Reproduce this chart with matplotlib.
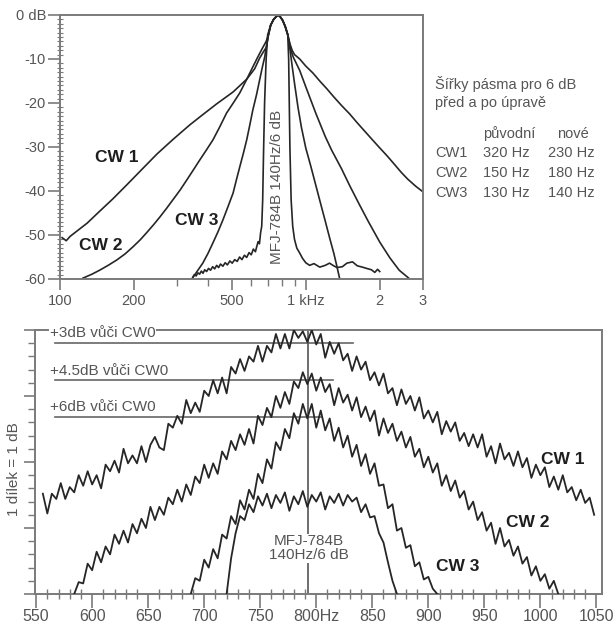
import numpy as np
import matplotlib
matplotlib.use('Agg')
import matplotlib.pyplot as plt

plt.rcParams['font.family'] = ['Liberation Sans', 'DejaVu Sans']

# ---------------- top panel data (frequency in Hz, level in dB) ----------------
cw1_top_f = [102, 106, 110, 129, 145, 164, 187, 211, 248, 288, 337, 382, 434, 506, 575, 620, 649,
             672, 692, 705, 720, 740, 760, 770, 785, 805, 825, 845, 862, 880, 900, 945, 1000, 1070,
             1140, 1220, 1300, 1400, 1510, 1620, 1750, 1870, 2000, 2150, 2300, 2450, 2600, 2800, 3000]
cw1_top_db = [-50.6, -51.3, -50.3, -47.3, -44.6, -41.8, -38.6, -35.6, -31.6, -28.3, -25.0, -22.6, -20.2,
              -17.5, -14.6, -12.2, -9.8, -8.4, -7.3, -4.5, -2.3, -1.0, -0.3, 0.0, -0.3, -1.2, -2.6, -4.5,
              -6.5, -8.0, -9.0, -10.0, -11.6, -13.2, -15.0, -16.8, -18.6, -20.6, -22.5, -24.5, -26.6,
              -28.4, -30.2, -32.1, -34.0, -35.8, -37.3, -38.9, -40.2]

cw2_top_f = [124, 135, 145, 157, 170, 184, 198, 212, 225, 240, 255, 271, 288, 308, 328, 348, 370, 394,
             419, 447, 476, 507, 539, 573, 609, 640, 670, 690, 705, 720, 740, 760, 770, 785, 805, 825,
             845, 858, 870, 890, 945, 1000, 1100, 1200, 1274, 1400, 1510, 1650, 1800, 2000, 2200,
             2400, 2650]
cw2_top_db = [-59.8, -58.9, -58.0, -56.9, -55.7, -54.3, -52.7, -51.1, -49.5, -47.7, -45.9, -44.0, -42.0,
              -39.8, -37.5, -35.3, -33.0, -30.7, -28.4, -25.4, -22.3, -20.0, -17.7, -14.8, -11.8, -9.4,
              -7.3, -6.0, -4.5, -2.3, -1.0, -0.3, 0.0, -0.3, -1.2, -2.6, -4.5, -6.3, -8.0, -9.6, -12.6,
              -16.3, -22.4, -27.6, -30.7, -35.0, -38.8, -43.0, -47.0, -51.6, -55.2, -58.0, -60.0]

cw3_top_f = [344, 362, 381, 400, 419, 440, 460, 483, 506, 522, 539, 557, 575, 592, 609, 630, 649, 665,
             681, 692, 705, 720, 740, 760, 770, 785, 805, 825, 845, 856, 866, 880, 900, 930, 960, 1000,
             1050, 1100, 1150, 1200, 1250, 1300, 1340, 1375]
cw3_top_db = [-60.0, -58.2, -56.4, -54.2, -51.8, -49.2, -46.6, -43.5, -40.5, -37.5, -34.5, -31.5, -28.4,
              -25.0, -21.6, -18.2, -14.8, -12.0, -9.5, -7.0, -4.5, -2.3, -1.0, -0.3, 0.0, -0.3, -1.2,
              -2.6, -4.5, -6.5, -8.5, -11.5, -15.5, -21.0, -25.5, -30.2, -34.5, -38.8, -42.9, -46.8,
              -50.6, -54.1, -57.2, -60.0]

mfj_top_f = [347, 352, 358, 364, 370, 376, 382, 388, 395, 402, 410, 418, 426, 434, 442, 450, 460, 470,
             480, 491, 502, 514, 526, 538, 550, 563, 575, 588, 600, 612, 624, 632, 640, 648, 655, 662,
             668, 673, 680, 690, 700, 720, 740, 760, 770, 785, 805, 825, 845, 852, 857, 862, 872, 885,
             900, 920, 945, 970, 1000, 1037, 1080, 1140, 1200, 1250, 1290, 1340, 1410, 1470, 1550,
             1620, 1700, 1770, 1850, 1910, 1960, 2000]
mfj_top_db = [-59.6, -59.0, -59.3, -58.6, -58.9, -58.2, -58.7, -57.9, -58.3, -57.6, -58.0, -57.2, -57.7,
              -56.9, -57.4, -56.6, -57.1, -56.3, -56.8, -55.9, -56.4, -55.6, -56.0, -55.0, -55.6, -54.6,
              -55.1, -54.0, -54.5, -53.2, -53.8, -52.6, -51.5, -52.0, -49.5, -48.0, -42.0, -32.0, -20.0,
              -10.0, -4.5, -2.3, -1.0, -0.3, 0.0, -0.3, -1.2, -2.6, -4.5, -10.0, -20.0, -30.0, -42.0,
              -48.0, -51.0, -53.0, -54.1, -55.3, -56.3, -56.9, -56.5, -57.3, -56.9, -56.4, -56.9, -57.4,
              -57.2, -56.4, -56.1, -57.0, -57.3, -57.6, -57.9, -58.5, -57.8, -58.3]

top_xticks = [100, 200, 500, 1000, 2000, 3000]
top_xticklabels = ['100', '200', '500', '1 kHz', '2', '3']
top_xminor = [300, 400, 600, 700, 800, 900]
top_yticks = [-60, -50, -40, -30, -20, -10, 0]
top_yticklabels = ['-60', '-50', '-40', '-30', '-20', '-10', '0 dB']

# ---------------- bottom panel data (Hz, 1 division = 1 dB) ----------------
step = 4
cw1_start = 556
cw1_bot = [7.6, 6.1, 7.6, 7.2, 8.4, 7.2, 8.1, 7.7, 9.0, 8.2, 9.3, 8.3, 9.0, 8.0, 9.8, 9.3, 10.1, 9.2,
           11.0, 9.9, 10.5, 9.9, 11.2, 10.0, 11.3, 11.9, 11.1, 10.9, 12.9, 12.6, 13.5, 12.9, 14.7, 13.7,
           14.5, 13.8, 15.4, 15.0, 16.2, 15.2, 16.4, 15.2, 17.2, 16.7, 17.8, 16.9, 18.0, 17.6, 18.8, 17.6,
           18.8, 18.3, 19.7, 18.6, 19.7, 18.6, 20.0, 19.4, 19.9, 19.1, 20.0, 18.9, 19.7, 17.9, 19.1, 18.2,
           19.0, 17.7, 18.2, 16.9, 18.0, 17.0, 17.6, 16.2, 16.8, 15.8, 16.7, 15.2, 15.6, 14.3, 15.5, 14.4,
           15.0, 13.9, 14.9, 13.3, 13.9, 13.0, 13.8, 12.1, 13.1, 12.3, 13.0, 11.6, 12.2, 11.2, 12.1, 11.1,
           12.1, 10.4, 11.2, 9.9, 11.4, 10.2, 10.7, 9.7, 10.8, 9.6, 10.3, 8.8, 9.8, 9.0, 9.6, 8.1, 8.9,
           7.9, 9.0, 7.7, 8.1, 7.1, 7.9, 6.9, 7.3, 6.0]

cw2_start = 584
cw2_bot = [0.0, 0.9, 0.8, 2.3, 1.8, 3.2, 2.4, 3.6, 3.0, 4.5, 3.8, 4.8, 3.9, 5.3, 4.6, 5.7, 5.0, 6.6, 5.6,
           6.6, 6.0, 7.3, 6.8, 7.9, 7.0, 8.3, 7.5, 8.9, 8.4, 9.8, 8.8, 9.9, 9.1, 10.8, 10.2, 11.6, 10.9,
           12.1, 11.3, 12.5, 11.4, 13.5, 12.8, 14.1, 13.4, 15.0, 14.1, 15.3, 14.4, 16.1, 15.6, 16.8, 15.9,
           16.7, 15.4, 16.4, 15.3, 15.9, 14.3, 15.6, 14.5, 15.1, 13.9, 14.9, 13.4, 14.2, 13.1, 13.9, 12.0,
           13.3, 12.2, 12.9, 11.6, 12.3, 11.1, 11.9, 10.4, 11.0, 9.6, 10.4, 9.2, 9.9, 8.2, 9.0, 7.8, 8.6,
           7.3, 7.8, 6.4, 7.0, 5.6, 6.2, 4.8, 5.4, 3.8, 5.0, 3.6, 4.1, 2.9, 3.6, 2.3, 2.8, 1.4, 2.1, 1.0,
           1.5, 0.4, 1.0, 0.0]

cw3_start = 688
cw3_bot = [0.0, 1.2, 1.0, 2.6, 2.0, 3.4, 2.7, 4.5, 4.2, 5.9, 5.3, 7.1, 6.4, 7.9, 7.2, 9.1, 8.4, 10.2,
           9.5, 11.5, 10.9, 12.5, 11.8, 13.7, 12.9, 14.4, 13.3, 14.4, 12.6, 13.9, 12.4, 13.3, 11.6, 12.6,
           11.1, 12.0, 10.4, 11.3, 9.7, 10.6, 9.1, 9.9, 8.2, 8.3, 6.5, 6.8, 4.8, 5.0, 3.5, 3.7, 2.1, 2.4,
           1.1, 1.3, 0.4, 0.0]

mfj_start = 720
mfj_bot = [0.0, 2.7, 4.6, 5.9, 5.6, 6.8, 6.2, 7.4, 6.7, 7.6, 6.5, 7.5, 6.9, 7.7, 6.3, 7.4, 6.8, 7.8, 6.6,
           7.5, 7.0, 7.7, 6.4, 7.4, 6.9, 7.6, 6.7, 7.5, 7.0, 7.3, 6.2, 6.8, 5.8, 5.9, 4.6, 3.9, 2.4, 1.0,
           0.0]

ref_levels = [19.0, 16.2, 13.4]
ref_starts = [567, 567, 567]
ref_ends = [833, 815, 805]
ref_labels = ['+3dB vůči CW0', '+4.5dB vůči CW0', '+6dB vůči CW0']
ref_label_y = [19.75, 16.9, 14.2]
mfj_center = 793

bot_xticks = list(range(550, 1051, 50))
bot_xticklabels = ['550', '600', '650', '700', '750', '800Hz', '850', '900', '950', '1000', '1050']

# ---------------- figure ----------------
W, H = 616, 629
fig = plt.figure(figsize=(W / 100, H / 100), dpi=100)
fig.patch.set_facecolor('white')

line_col = '#262626'
axis_col = '#7a7a7a'
txt_col = '#555555'
cw_col = '#1e1e1e'

# ---- top ----
ax1 = fig.add_axes([60 / W, 1 - 279 / H, 363 / W, 264 / H])
ax1.set_xscale('log')
for f, d in [(cw1_top_f, cw1_top_db), (cw2_top_f, cw2_top_db), (cw3_top_f, cw3_top_db),
             (mfj_top_f, mfj_top_db)]:
    ax1.plot(f, d, color=line_col, lw=1.2, solid_joinstyle='round')
ax1.set_xlim(100, 3000)
ax1.set_ylim(-60, 0)
ax1.set_xticks(top_xticks)
ax1.set_xticklabels(top_xticklabels)
ax1.set_xticks(top_xminor, minor=True)
ax1.set_xticklabels([], minor=True)
ax1.set_yticks(top_yticks)
ax1.set_yticklabels(top_yticklabels)
ax1.set_yticks(np.arange(-60, 1, 1), minor=True)
ax1.tick_params(axis='x', which='major', direction='out', length=8, width=1.2, color=axis_col,
                labelsize=10.5, labelcolor=txt_col, pad=3)
ax1.tick_params(axis='x', which='minor', direction='out', length=5, width=1.0, color=axis_col)
ax1.tick_params(axis='y', which='major', direction='out', length=9, width=1.2, color=axis_col,
                labelsize=10.5, labelcolor=txt_col, pad=1)
ax1.tick_params(axis='y', which='minor', direction='inout', length=4, width=0.8, color=axis_col)
for s in ax1.spines.values():
    s.set_color(axis_col)
    s.set_linewidth(1.4)

ax1.text(170, -32.3, 'CW 1', fontsize=12.5, fontweight='bold', color=cw_col, ha='center', va='center')
ax1.text(146, -52.5, 'CW 2', fontsize=12.5, fontweight='bold', color=cw_col, ha='center', va='center')
ax1.text(360, -46.6, 'CW 3', fontsize=12.5, fontweight='bold', color=cw_col, ha='center', va='center')
ax1.text(762, -39, 'MFJ-784B 140Hz/6 dB', rotation=90, fontsize=11, color=txt_col,
         ha='center', va='center')

# right-hand notes
fig.text(435 / W, 1 - 84 / H, 'Šířky pásma pro 6 dB', fontsize=10.5, color=txt_col, va='center')
fig.text(435 / W, 1 - 103 / H, 'před a po úpravě', fontsize=10.5, color=txt_col, va='center')
fig.text(483 / W, 1 - 134 / H, 'původní', fontsize=10.5, color=txt_col, va='center')
fig.text(557 / W, 1 - 134 / H, 'nové', fontsize=10.5, color=txt_col, va='center')
rows = [('CW1', '320 Hz', '230 Hz'), ('CW2', '150 Hz', '180 Hz'), ('CW3', '130 Hz', '140 Hz')]
for (name, a, b), yy in zip(rows, [153, 173, 193]):
    fig.text(435 / W, 1 - yy / H, name, fontsize=10.5, color=txt_col, va='center')
    fig.text(483 / W, 1 - yy / H, a, fontsize=10.5, color=txt_col, va='center')
    fig.text(548 / W, 1 - yy / H, b, fontsize=10.5, color=txt_col, va='center')

# ---- bottom ----
ax2 = fig.add_axes([35 / W, 1 - 594 / H, 567 / W, 264 / H])
for start, vals in [(cw1_start, cw1_bot), (cw2_start, cw2_bot), (cw3_start, cw3_bot),
                    (mfj_start, mfj_bot)]:
    f = start + step * np.arange(len(vals))
    ax2.plot(f, vals, color=line_col, lw=1.3, solid_joinstyle='round', zorder=3)
ax2.set_xlim(549, 1055)
ax2.set_ylim(0, 20)

for lvl, x0, x1 in zip(ref_levels, ref_starts, ref_ends):
    ax2.plot([x0, x1], [lvl, lvl], color='#666666', lw=1.2, zorder=2)
ax2.axvline(mfj_center, color='#555555', lw=1.2, zorder=2)

for i, (lbl, yy) in enumerate(zip(ref_labels, ref_label_y)):
    ax2.text(562, yy, lbl, fontsize=11, color=txt_col, ha='left', va='center', zorder=4,
             clip_on=False,
             bbox=dict(facecolor='white', edgecolor='none', pad=0.5) if i == 0 else None)

ax2.text(mfj_center, 3.45, 'MFJ-784B\n140Hz/6 dB', fontsize=11, color=txt_col, ha='center',
         va='center', linespacing=1.0, zorder=4,
         bbox=dict(facecolor='white', edgecolor='none', pad=0.3))

ax2.text(1020, 10.2, 'CW 1', fontsize=12.5, fontweight='bold', color=cw_col, ha='center', va='center')
ax2.text(989, 5.4, 'CW 2', fontsize=12.5, fontweight='bold', color=cw_col, ha='center', va='center')
ax2.text(926, 2.05, 'CW 3', fontsize=12.5, fontweight='bold', color=cw_col, ha='center', va='center')

ax2.set_xticks(bot_xticks)
ax2.set_xticklabels(bot_xticklabels)
ax2.set_xticks(np.arange(550, 1051, 10), minor=True)
ax2.set_yticks([0, 5, 10, 15, 20])
ax2.set_yticklabels([])
ax2.set_yticks(np.arange(0, 21, 1), minor=True)
ax2.tick_params(axis='x', which='major', direction='out', length=10, width=1.2, color=axis_col,
                labelsize=11.5, labelcolor=txt_col, pad=1)
ax2.tick_params(axis='x', which='minor', direction='inout', length=7, width=1.0, color=axis_col)
ax2.tick_params(axis='y', which='major', direction='out', length=8, width=1.2, color=axis_col)
ax2.tick_params(axis='y', which='minor', direction='out', length=5, width=1.0, color=axis_col)
for s in ax2.spines.values():
    s.set_color(axis_col)
    s.set_linewidth(1.4)

fig.text(14 / W, 1 - 469 / H, '1 dílek = 1 dB', rotation=90, fontsize=11, color=txt_col,
         ha='center', va='center')

fig.savefig('out.png', dpi=100, facecolor='white')
